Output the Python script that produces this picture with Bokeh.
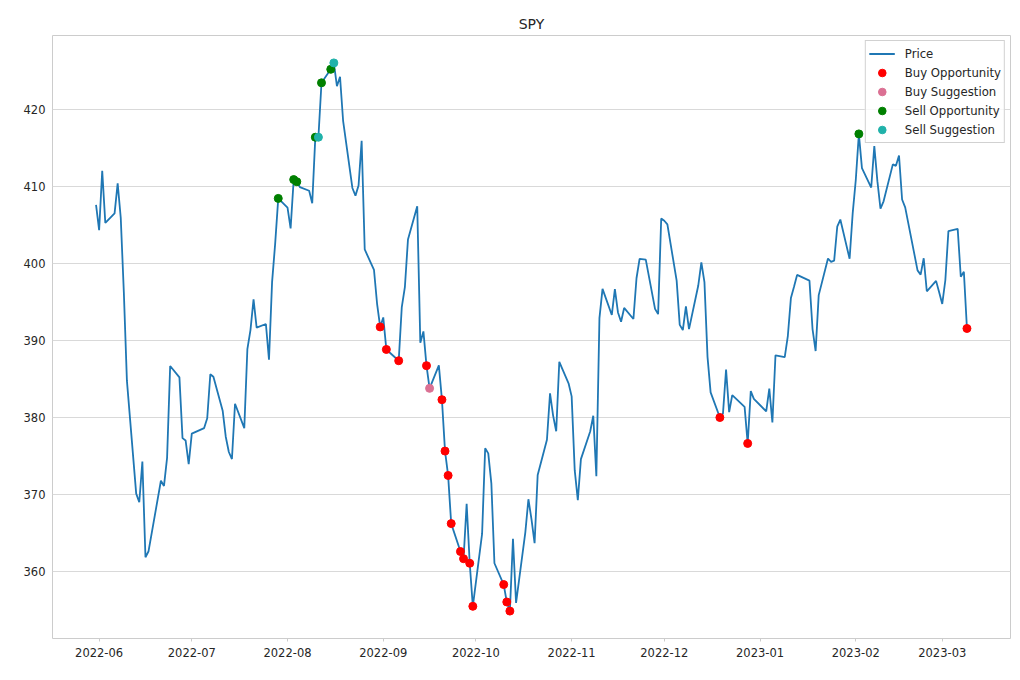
import pandas as pd
from bokeh.plotting import figure
from bokeh.models import Range1d, FixedTicker, DatetimeTickFormatter
from bokeh.embed import file_html
from bokeh.resources import INLINE

title = "SPY"

dates = [
    "2022-05-31",
    "2022-06-01", "2022-06-02", "2022-06-03", "2022-06-06", "2022-06-07", "2022-06-08", "2022-06-09",
    "2022-06-10", "2022-06-13", "2022-06-14", "2022-06-15", "2022-06-16", "2022-06-17", "2022-06-21",
    "2022-06-22", "2022-06-23", "2022-06-24", "2022-06-27", "2022-06-28", "2022-06-29", "2022-06-30",
    "2022-07-01", "2022-07-05", "2022-07-06", "2022-07-07", "2022-07-08", "2022-07-11", "2022-07-12",
    "2022-07-13", "2022-07-14", "2022-07-15", "2022-07-18", "2022-07-19", "2022-07-20", "2022-07-21",
    "2022-07-22", "2022-07-25", "2022-07-26", "2022-07-27", "2022-07-28", "2022-07-29",
    "2022-08-01", "2022-08-02", "2022-08-03", "2022-08-04", "2022-08-05", "2022-08-08", "2022-08-09",
    "2022-08-10", "2022-08-11", "2022-08-12", "2022-08-15", "2022-08-16", "2022-08-17", "2022-08-18",
    "2022-08-19", "2022-08-22", "2022-08-23", "2022-08-24", "2022-08-25", "2022-08-26", "2022-08-29",
    "2022-08-30", "2022-08-31",
    "2022-09-01", "2022-09-02", "2022-09-06", "2022-09-07", "2022-09-08", "2022-09-09", "2022-09-12",
    "2022-09-13", "2022-09-14", "2022-09-15", "2022-09-16", "2022-09-19", "2022-09-20", "2022-09-21",
    "2022-09-22", "2022-09-23", "2022-09-26", "2022-09-27", "2022-09-28", "2022-09-29", "2022-09-30",
    "2022-10-03", "2022-10-04", "2022-10-05", "2022-10-06", "2022-10-07", "2022-10-10", "2022-10-11",
    "2022-10-12", "2022-10-13", "2022-10-14", "2022-10-17", "2022-10-18", "2022-10-19", "2022-10-20",
    "2022-10-21", "2022-10-24", "2022-10-25", "2022-10-26", "2022-10-27", "2022-10-28", "2022-10-31",
    "2022-11-01", "2022-11-02", "2022-11-03", "2022-11-04", "2022-11-07", "2022-11-08", "2022-11-09",
    "2022-11-10", "2022-11-11", "2022-11-14", "2022-11-15", "2022-11-16", "2022-11-17", "2022-11-18",
    "2022-11-21", "2022-11-22", "2022-11-23", "2022-11-25", "2022-11-28", "2022-11-29", "2022-11-30",
    "2022-12-01", "2022-12-02", "2022-12-05", "2022-12-06", "2022-12-07", "2022-12-08", "2022-12-09",
    "2022-12-12", "2022-12-13", "2022-12-14", "2022-12-15", "2022-12-16", "2022-12-19", "2022-12-20",
    "2022-12-21", "2022-12-22", "2022-12-23", "2022-12-27", "2022-12-28", "2022-12-29", "2022-12-30",
    "2023-01-03", "2023-01-04", "2023-01-05", "2023-01-06", "2023-01-09", "2023-01-10", "2023-01-11",
    "2023-01-12", "2023-01-13", "2023-01-17", "2023-01-18", "2023-01-19", "2023-01-20", "2023-01-23",
    "2023-01-24", "2023-01-25", "2023-01-26", "2023-01-27", "2023-01-30", "2023-01-31",
    "2023-02-01", "2023-02-02", "2023-02-03", "2023-02-06", "2023-02-07", "2023-02-08", "2023-02-09",
    "2023-02-10", "2023-02-13", "2023-02-14", "2023-02-15", "2023-02-16", "2023-02-17", "2023-02-21",
    "2023-02-22", "2023-02-23", "2023-02-24", "2023-02-27", "2023-02-28",
    "2023-03-01", "2023-03-02", "2023-03-03", "2023-03-06", "2023-03-07", "2023-03-08", "2023-03-09",
]

close = [
    407.59,
    404.30, 412.00, 405.24, 406.47, 410.37, 405.91, 396.25,
    384.76, 370.16, 369.04, 374.30, 361.91, 362.69, 371.82,
    371.15, 374.79, 386.70, 385.22, 377.35, 377.05, 373.98,
    377.94, 378.65, 379.93, 385.62, 385.30, 380.90, 377.53,
    375.55, 374.64, 381.80, 378.64, 388.87, 391.35, 395.34,
    391.67, 392.14, 387.51, 397.57, 402.55, 408.42,
    407.21, 404.53, 410.86, 410.58, 409.89, 409.41, 407.79,
    416.35, 416.35, 423.40, 425.15, 425.98, 422.96, 424.18,
    418.48, 409.77, 408.78, 410.09, 415.88, 401.80, 399.14,
    394.76, 391.76,
    392.99, 388.84, 387.38, 394.34, 396.91, 403.08, 407.41,
    389.70, 391.18, 386.74, 383.80, 386.77, 382.33, 375.67,
    372.51, 366.27, 362.65, 361.72, 368.84, 361.13, 355.55,
    364.93, 376.03, 375.37, 371.49, 361.13, 358.37, 356.11,
    354.93, 364.30, 356.00, 365.14, 369.43, 366.82, 363.74,
    372.58, 377.14, 383.16, 380.27, 378.24, 387.24, 384.45,
    382.76, 373.16, 369.31, 374.63, 378.21, 380.25, 372.42,
    392.89, 396.69, 393.31, 396.67, 393.64, 392.44, 394.22,
    392.79, 398.07, 400.58, 400.49, 394.10, 393.42, 405.82,
    405.52, 405.05, 397.76, 392.03, 391.36, 394.43, 391.48,
    397.13, 400.13, 397.57, 387.85, 383.27, 380.02, 380.54,
    386.23, 380.72, 382.91, 381.40, 376.66, 383.44, 382.43,
    380.82, 383.76, 379.38, 388.08, 387.86, 390.58, 395.52,
    396.96, 398.50, 397.77, 391.49, 388.64, 395.88, 400.63,
    400.20, 400.35, 404.75, 405.68, 400.59, 406.48,
    410.80, 416.78, 412.35, 409.83, 415.19, 410.65, 407.09,
    408.04, 412.83, 412.64, 413.98, 408.28, 407.26, 399.09,
    398.54, 400.66, 396.38, 397.73, 396.26,
    394.74, 397.81, 404.19, 404.47, 398.27, 398.92, 391.56,
]

buy_opportunity = [
    "2022-08-31", "2022-09-02", "2022-09-06", "2022-09-15", "2022-09-20", "2022-09-21",
    "2022-09-22", "2022-09-23", "2022-09-26", "2022-09-27", "2022-09-29", "2022-09-30",
    "2022-10-10", "2022-10-11", "2022-10-12", "2022-12-19", "2022-12-28", "2023-03-09",
]
buy_suggestion = ["2022-09-16"]
sell_opportunity = [
    "2022-07-29", "2022-08-03", "2022-08-04", "2022-08-10", "2022-08-12", "2022-08-15", "2023-02-02",
]
sell_suggestion = ["2022-08-11", "2022-08-16"]

x_tick_labels = ["2022-06", "2022-07", "2022-08", "2022-09", "2022-10",
                 "2022-11", "2022-12", "2023-01", "2023-02", "2023-03"]
y_ticks = [360, 370, 380, 390, 400, 410, 420]

FONT = "DejaVu Sans"
TEXT = "#262626"
GRID = "#d9d9d9"

dt = pd.to_datetime(dates)
price_of = dict(zip(dates, close))

span = dt.max() - dt.min()
x_start = dt.min() - span * 0.05
x_end = dt.max() + span * 0.05
ymin, ymax = min(close), max(close)
ypad = (ymax - ymin) * 0.05

p = figure(width=1018, height=678, x_axis_type="datetime",
           output_backend="svg", toolbar_location=None,
           x_range=Range1d(x_start, x_end), y_range=Range1d(ymin - ypad, ymax + ypad),
           min_border_left=52, min_border_right=8, min_border_top=35, min_border_bottom=40)

p.background_fill_color = "white"
p.border_fill_color = "white"
p.outline_line_color = "#cccccc"
p.outline_line_width = 1

p.title.text = title
p.title.align = "center"
p.title.text_font = FONT
p.title.text_font_size = "14px"
p.title.text_font_style = "normal"
p.title.text_color = TEXT
p.title.standoff = 8

p.line(dt, close, color="#1f77b4", line_width=1.8, legend_label="Price")

groups = [
    (buy_opportunity, "#ff0000", "Buy Opportunity"),
    (buy_suggestion, "#db7093", "Buy Suggestion"),
    (sell_opportunity, "#008000", "Sell Opportunity"),
    (sell_suggestion, "#20b2aa", "Sell Suggestion"),
]
for ds, col, lab in groups:
    p.scatter(pd.to_datetime(ds), [price_of[d] for d in ds], size=8, marker="circle",
              fill_color=col, line_color=col, legend_label=lab)

tick_ms = [float(pd.Timestamp(t + "-01").value // 10**6) for t in x_tick_labels]
p.xaxis.ticker = FixedTicker(ticks=tick_ms)
fmt = "%Y-%m"
p.xaxis.formatter = DatetimeTickFormatter(
    microseconds=fmt, milliseconds=fmt, seconds=fmt, minsec=fmt, minutes=fmt,
    hourmin=fmt, hours=fmt, days=fmt, months=fmt, years=fmt)
p.yaxis.ticker = FixedTicker(ticks=y_ticks)

for ax in (p.xaxis, p.yaxis):
    ax.axis_line_color = None
    ax.major_label_text_font = FONT
    ax.major_label_text_font_size = "11.5px"
    ax.major_label_text_color = TEXT
    ax.minor_tick_line_color = None
    ax.major_tick_in = 0

p.xaxis.major_tick_out = 3
p.xaxis.major_tick_line_color = "#cccccc"
p.xaxis.major_label_standoff = 6
p.yaxis.major_tick_out = 0
p.yaxis.major_tick_line_color = None
p.yaxis.major_label_standoff = 7

p.xgrid.grid_line_color = None
p.ygrid.grid_line_color = GRID
p.ygrid.grid_line_width = 1

lg = p.legend[0]
lg.location = "top_right"
lg.margin = 5
lg.padding = 3
lg.spacing = 0
lg.glyph_width = 26
lg.glyph_height = 19
lg.label_height = 19
lg.label_standoff = 10
lg.label_text_font = FONT
lg.label_text_font_size = "11.7px"
lg.label_text_color = TEXT
lg.border_line_color = "#cccccc"
lg.border_line_alpha = 0.9
lg.background_fill_color = "white"
lg.background_fill_alpha = 0.8

open("out.html", "w").write(file_html(p, INLINE))
